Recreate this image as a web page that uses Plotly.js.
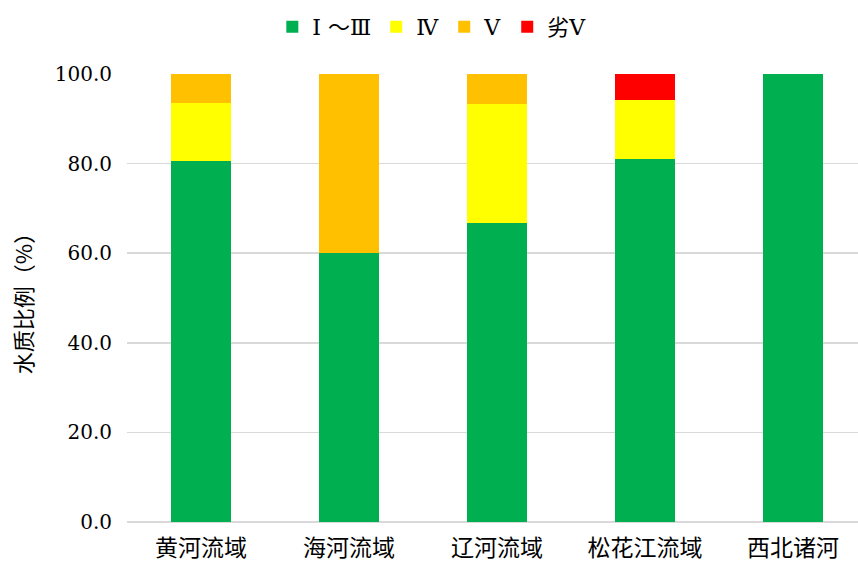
<!DOCTYPE html>
<html><head><meta charset="utf-8">
<script src="https://cdn.plot.ly/plotly-3.0.1.min.js"></script>
<style>html,body{margin:0;padding:0;background:#fff}#c{width:858px;height:563px}</style>
</head><body><div id="c"></div>
<script>
const categories = ['黄河流域', '海河流域', '辽河流域', '松花江流域', '西北诸河'];
const seriesNames = ['Ⅰ ～Ⅲ', 'Ⅳ', 'Ⅴ', '劣Ⅴ'];
const gradeI_III = [80.6, 60.0, 66.7, 81.1, 100.0];
const gradeIV = [12.9, 0, 26.6, 13.2, 0];
const gradeV = [6.5, 40.0, 6.7, 0, 0];
const gradeWorseV = [0, 0, 0, 5.7, 0];
const colors = ['#00B050', '#FFFF00', '#FFC000', '#FF0000'];
const tickVals = [0, 20, 40, 60, 80, 100];

const serif = '"DejaVu Serif", "Noto Sans CJK SC", serif';
const values = [gradeI_III, gradeIV, gradeV, gradeWorseV];
const data = values.map((v, i) => ({
  type: 'bar', name: seriesNames[i], x: categories, y: v,
  marker: {color: colors[i]}, hoverinfo: 'x+y+name'
}));

const layout = {
  width: 858, height: 563,
  margin: {l: 127, r: 0, t: 74, b: 41, pad: 0},
  barmode: 'stack', bargap: 0.595,
  paper_bgcolor: '#fff', plot_bgcolor: '#fff',
  font: {family: serif, color: '#000', size: 19},
  showlegend: true,
  legend: {orientation: 'h', x: 0.417, xanchor: 'center', y: 1.105, yanchor: 'middle',
    font: {family: serif, size: 22, color: '#000'}, itemwidth: 30, tracegroupgap: 0, traceorder: 'normal'},
  xaxis: {type: 'category', range: [-0.5, 4.44], showgrid: false, showline: false,
    zeroline: false, ticks: '', ticklabelstandoff: 10,
    tickfont: {family: '"Noto Sans CJK SC", serif', size: 23, color: '#000'},
    fixedrange: true},
  yaxis: {range: [0, 100], tickvals: tickVals, tickformat: '.1f', showgrid: true,
    gridcolor: '#D9D9D9', gridwidth: 1.5, zeroline: true, zerolinecolor: '#D9D9D9', zerolinewidth: 1.5,
    showline: false, ticks: '', ticklabelstandoff: 14,
    tickfont: {family: serif, size: 20, color: '#000'},
    title: {text: '水质比例（%）', font: {family: '"Noto Sans CJK SC", sans-serif', size: 22, color: '#000'}, standoff: 16},
    fixedrange: true}
};
Plotly.newPlot('c', data, layout, {displayModeBar: false, staticPlot: true});
</script></body></html>
